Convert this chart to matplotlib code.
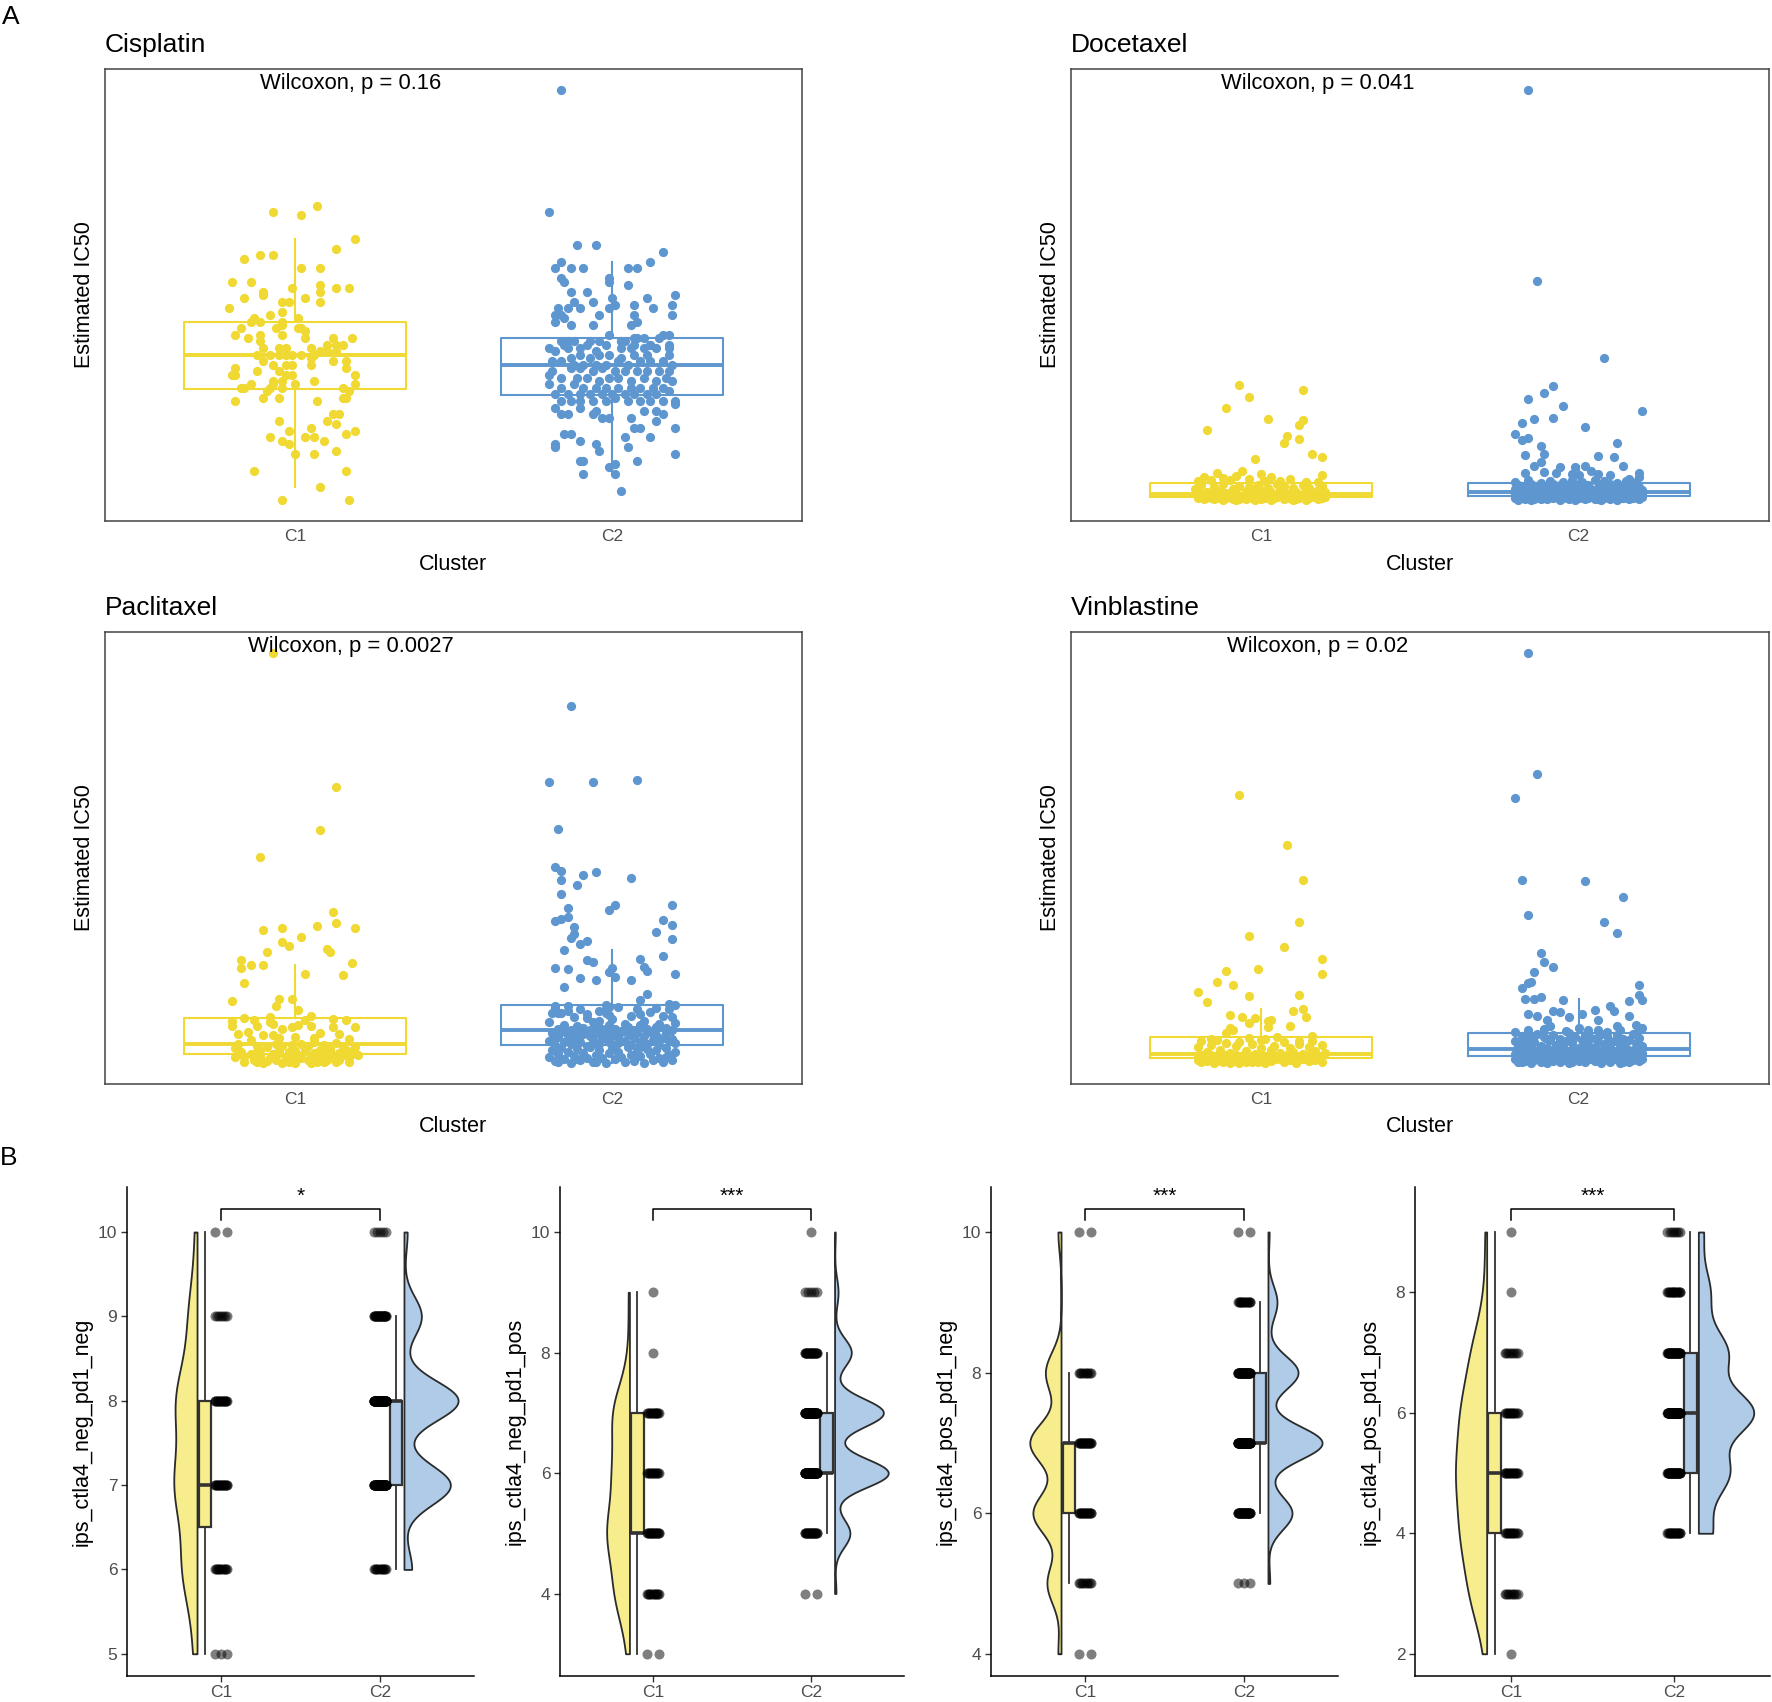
import numpy as np
import matplotlib
matplotlib.use('Agg')
import matplotlib.pyplot as plt
from matplotlib.ticker import MultipleLocator

plt.rcParams['font.family'] = ['Liberation Sans', 'DejaVu Sans']

W, H = 1772, 1702

# ---- panel A data: (jitter, estimated IC50) per sample ----
cisplatin_c1 = [
    (-7, 93), (2, 92), (7, 95), (19, 85), (13, 82), (-16, 79), (-11, 80), (-7, 80), (2, 76), (8, 76),
    (-20, 72), (-14, 72), (8, 71), (13, 70), (17, 70), (-1, 70), (-10, 69), (-10, 68), (8, 69), (-16, 67),
    (-4, 66), (-2, 66), (3, 67), (8, 66), (-21, 64), (-4, 63), (-8, 62), (-4, 60), (1, 61), (1, 58),
    (2, 58), (-13, 61), (-14, 60), (-11, 60), (-6, 58), (-4, 59), (-17, 58), (-19, 56), (-4, 56), (3, 57),
    (3, 55), (-15, 55), (-11, 56), (-11, 54), (-10, 52), (-5, 52), (-3, 52), (-3, 50), (2, 50), (5, 52),
    (10, 53), (12, 55), (13, 53), (15, 53), (18, 55), (6, 50), (8, 51), (10, 51), (13, 51), (-12, 50),
    (-8, 50), (-5, 50), (-1, 50), (5, 47), (5, 49), (12, 48), (16, 48), (16, 46), (-10, 48), (-7, 47),
    (-3, 47), (-1, 47), (-19, 46), (-19, 44), (-20, 44), (-12, 45), (-5, 45), (-3, 44), (-1, 44), (19, 44),
    (19, 41), (6, 42), (0, 41), (-7, 42), (-8, 40), (-16, 40), (-17, 40), (-9, 39), (-10, 37), (17, 39),
    (16, 37), (15, 37), (-19, 36), (-14, 41), (-7, 41), (-5, 37), (-4, 42), (-4, 40), (7, 36), (15, 40),
    (14, 32), (12, 32), (10, 30), (13, 29), (-5, 30), (5, 28), (-2, 27), (19, 27), (16, 26), (-8, 25),
    (-4, 24), (-2, 23), (3, 25), (6, 25), (9, 24), (0, 20), (6, 20), (13, 21), (-13, 15), (16, 15),
    (8, 10), (-4, 6), (17, 6)]

cisplatin_c2 = [
    (-16, 130), (-20, 93), (-11, 83), (-5, 83), (16, 81), (12, 78), (-16, 78), (-18, 76), (-13, 76), (-9, 76),
    (5, 76), (8, 76), (-16, 73), (-15, 72), (-1, 73), (-1, 72), (5, 71), (-13, 69), (-8, 69), (20, 68),
    (19, 65), (19, 62), (11, 67), (13, 64), (7, 65), (0, 67), (1, 65), (-6, 66), (-12, 66), (-17, 64),
    (-18, 62), (-14, 64), (-10, 64), (-15, 61), (-16, 62), (-4, 62), (-1, 64), (7, 62), (8, 60), (6, 59),
    (3, 54), (-2, 53), (-18, 60), (-13, 59), (-14, 54), (-6, 59), (12, 53), (12, 53), (7, 53), (8, 55),
    (10, 55), (4, 54), (-12, 54), (-8, 53), (-1, 56), (16, 56), (18, 56), (18, 53), (18, 50), (3, 54),
    (7, 55), (15, 55), (-16, 54), (-15, 53), (-20, 52), (-18, 51), (-14, 52), (-10, 52), (-5, 51), (-1, 50),
    (-4, 54), (-7, 54), (6, 52), (10, 52), (14, 52), (18, 52), (7, 50), (11, 50), (3, 52), (-13, 49),
    (-10, 50), (-7, 49), (-4, 50), (3, 49), (-16, 48), (-19, 48), (-12, 47), (-9, 47), (-5, 47), (-2, 47),
    (2, 48), (5, 47), (9, 48), (12, 48), (16, 48), (19, 47), (-19, 45), (-13, 46), (-10, 46), (-6, 45),
    (-3, 46), (1, 45), (4, 45), (8, 45), (11, 45), (15, 45), (18, 45), (-20, 44), (-16, 43), (-11, 43),
    (-8, 43), (-4, 42), (-1, 43), (2, 43), (6, 42), (10, 43), (14, 42), (17, 43), (-20, 41), (-16, 40),
    (-12, 41), (-9, 40), (-5, 40), (-2, 40), (2, 40), (6, 40), (9, 40), (13, 40), (16, 40), (19, 42),
    (-18, 38), (-14, 38), (-10, 38), (-7, 38), (-3, 38), (0, 38), (4, 38), (7, 38), (11, 38), (14, 38),
    (18, 39), (-16, 36), (-13, 36), (-10, 36), (-6, 36), (-2, 36), (1, 37), (5, 36), (9, 36), (12, 36),
    (16, 36), (20, 36), (-18, 34), (-16, 32), (-14, 32), (-10, 34), (-6, 32), (-5, 33), (-3, 31), (-1, 31),
    (6, 31), (10, 33), (14, 33), (16, 32), (20, 35), (7, 28), (9, 28), (20, 28), (14, 30), (-15, 26),
    (-13, 26), (-10, 24), (-18, 23), (-18, 22), (-5, 23), (-4, 21), (4, 25), (5, 22), (12, 25), (20, 20),
    (-10, 18), (-9, 18), (8, 18), (1, 17), (-1, 16), (1, 14), (-9, 14), (3, 9)]

docetaxel_c1 = [
    (-7, 40.5), (13, 39.0), (-4, 36.8), (-11, 33.4), (2, 30.2), (13, 29.9), (12, 28.4), (-17, 26.9),
    (8, 25.0), (7, 23.0), (12, 24.3), (16, 19.6), (19, 18.8), (-2, 18.0), (19, 13.4),
    (-14, 13.8), (-6, 14.4), (0, 13.6), (3, 12.8), (-20, 11.4), (-16, 11.8), (-10, 11.8), (-4, 12.1),
    (6, 11.6), (-12, 12.5), (9, 12.2), (-8, 13.0), (14, 11.3), (18, 11.1), (1, 11.5), (-18, 12.6),
    (-21, 9.0), (-19, 10.2), (-17, 8.1), (-15, 9.6), (-13, 8.4), (-12, 10.5), (-11, 7.9), (-9, 9.2),
    (-8, 8.0), (-7, 10.0), (-5, 8.6), (-4, 9.8), (-2, 7.8), (-1, 10.4), (0, 8.9), (2, 9.5), (3, 8.1),
    (5, 10.6), (6, 8.7), (7, 9.9), (9, 7.9), (10, 9.3), (11, 8.2), (13, 10.3), (14, 8.6), (15, 9.5),
    (17, 7.8), (18, 8.9), (19, 10.0), (20, 8.3), (-3, 9.1),
    (-20, 7.0), (-19, 7.4), (-17, 6.8), (-16, 7.2), (-14, 7.5), (-13, 6.9), (-11, 7.1), (-10, 6.7),
    (-9, 7.4), (-7, 7.0), (-6, 6.8), (-5, 7.3), (-3, 7.5), (-2, 6.9), (0, 7.2), (1, 6.7), (2, 7.4),
    (4, 7.0), (5, 6.8), (6, 7.3), (8, 7.5), (9, 6.9), (10, 7.1), (12, 6.7), (13, 7.4), (14, 7.0),
    (16, 6.8), (17, 7.3), (19, 7.1), (20, 6.7), (-1, 7.6),
    (-20, 6.2), (-18, 5.9), (-17, 6.5), (-15, 6.0), (-14, 6.3), (-12, 5.7), (-11, 6.4), (-9, 6.1),
    (-8, 5.8), (-6, 6.5), (-5, 6.0), (-3, 6.3), (-2, 5.6), (0, 6.1), (1, 6.4), (3, 5.8), (4, 6.2),
    (5, 6.5), (7, 5.9), (8, 6.3), (10, 5.7), (11, 6.0), (12, 6.4), (14, 5.8), (15, 6.2), (17, 6.5),
    (18, 5.9), (19, 6.3), (-7, 6.0), (-16, 6.4), (9, 6.6)]

docetaxel_c2 = [
    (-16, 129.8), (-13, 72.0), (8, 48.8), (-8, 40.1), (-11, 38.0), (-16, 36.3), (-5, 34.1), (20, 32.6),
    (-18, 29.1), (-14, 30.3), (-8, 30.5), (2, 27.9), (-20, 25.7), (-18, 24.0), (-16, 24.6), (12, 23.0),
    (-12, 22.0), (-11, 19.6), (-17, 19.4), (6, 19.1), (11, 18.8), (14, 16.0), (-6, 15.8), (-1, 15.6),
    (2, 16.0), (-14, 16.1), (-12, 17.1), (-17, 13.8), (-11, 14.1), (-7, 13.8), (-2, 13.6), (0, 13.4),
    (4, 14.6), (6, 13.6), (10, 13.4), (16, 12.1), (19, 13.8), (19, 12.8),
    (-20, 11.2), (-16, 11.8), (-12, 11.0), (-9, 11.6), (-5, 11.3), (-2, 11.9), (1, 11.1), (5, 11.7),
    (8, 11.4), (12, 11.0), (15, 11.6), (18, 11.2),
    (-20, 9.0), (-19, 10.3), (-18, 8.4), (-17, 9.7), (-16, 8.8), (-15, 10.6), (-14, 8.2), (-13, 9.4),
    (-12, 10.1), (-11, 8.6), (-10, 9.9), (-9, 8.3), (-8, 10.5), (-7, 9.1), (-6, 8.5), (-5, 9.6),
    (-4, 10.2), (-3, 8.2), (-2, 9.3), (-1, 10.7), (0, 8.7), (1, 9.8), (2, 8.4), (3, 10.4), (4, 9.0),
    (5, 8.2), (6, 9.5), (7, 10.0), (8, 8.6), (9, 9.2), (10, 10.6), (11, 8.3), (12, 9.7), (13, 8.9),
    (14, 10.3), (15, 8.5), (16, 9.4), (17, 10.1), (18, 8.2), (19, 9.6), (20, 8.8), (-18, 10.0),
    (-14, 9.5), (-10, 8.9), (-6, 10.4), (-2, 8.6), (2, 10.1), (6, 8.8), (10, 9.3), (14, 9.0),
    (-20, 7.5), (-19, 7.9), (-18, 7.2), (-17, 7.7), (-16, 7.3), (-15, 8.0), (-14, 7.4), (-13, 7.8),
    (-12, 7.2), (-11, 7.6), (-10, 8.0), (-9, 7.3), (-8, 7.7), (-7, 7.1), (-6, 7.5), (-5, 7.9),
    (-4, 7.2), (-3, 7.6), (-2, 8.0), (-1, 7.4), (0, 7.8), (1, 7.2), (2, 7.6), (3, 7.9), (4, 7.3),
    (5, 7.7), (6, 7.1), (7, 7.5), (8, 7.9), (9, 7.3), (10, 7.7), (11, 8.0), (12, 7.4), (13, 7.8),
    (14, 7.2), (15, 7.6), (16, 7.9), (17, 7.3), (18, 7.7), (19, 7.1), (20, 7.5), (-17, 7.4),
    (-13, 7.5), (-9, 7.8), (-5, 7.4), (-1, 7.7), (3, 7.4), (7, 7.8), (11, 7.5), (15, 7.3),
    (-20, 6.4), (-19, 5.8), (-18, 6.9), (-17, 6.1), (-16, 6.6), (-15, 5.7), (-14, 6.3), (-13, 6.8),
    (-12, 6.0), (-11, 6.5), (-10, 5.9), (-9, 7.0), (-8, 6.2), (-7, 6.7), (-6, 5.8), (-5, 6.4),
    (-4, 6.9), (-3, 6.0), (-2, 6.5), (-1, 5.6), (0, 6.2), (1, 6.8), (2, 5.9), (3, 6.4), (4, 7.0),
    (5, 6.1), (6, 6.6), (7, 5.7), (8, 6.3), (9, 6.8), (10, 6.0), (11, 6.5), (12, 5.8), (13, 6.9),
    (14, 6.2), (15, 6.7), (16, 5.9), (17, 6.4), (18, 7.0), (19, 6.1), (20, 6.6), (-18, 6.2),
    (-14, 5.9), (-10, 6.6), (-6, 6.3), (-2, 6.8), (2, 6.3), (6, 6.0), (10, 6.7), (14, 6.4)]

paclitaxel_c1 = [
    (-7, 129.8), (13, 89.3), (8, 76.1), (-11, 68.0), (12, 51.4), (13, 48.1), (-10, 45.8), (-4, 46.5),
    (7, 47.1), (19, 46.6), (2, 43.7), (-4, 42.4), (-2, 41.0), (-9, 39.4), (10, 40.1), (11, 39.2),
    (-17, 37.0), (-17, 34.6), (-14, 35.4), (-10, 35.3), (18, 36.0), (3, 32.5), (15, 32.2), (-16, 30.0),
    (-20, 24.6), (-5, 25.0), (-1, 25.0), (-6, 23.1), (1, 21.8), (-16, 19.2), (-13, 18.7), (-8, 18.2),
    (-8, 19.6), (5, 19.8), (3, 18.6), (16, 18.6), (12, 19.1),
    (-20, 18.4), (-20, 16.9), (-12, 16.8), (-7, 17.5), (-4, 16.0), (-1, 16.6), (1, 17.1), (5, 16.8),
    (12, 16.6), (19, 16.5),
    (-18, 14.6), (-15, 15.1), (-10, 14.3), (-7, 14.1), (-5, 13.3), (0, 13.6), (6, 13.4), (8, 14.8),
    (14, 14.6), (17, 13.0),
    (-19, 10.4), (-12, 10.9), (-9, 10.6), (-6, 11.5), (-4, 10.9), (-1, 11.1), (2, 11.6), (4, 11.0),
    (9, 11.3), (11, 10.1), (15, 10.6), (18, 9.3),
    (-19, 7.4), (-14, 8.6), (-13, 6.6), (-11, 7.8), (-9, 6.4), (-7, 8.4), (-6, 6.6), (-4, 5.6),
    (-3, 7.6), (-2, 9.0), (-1, 6.6), (1, 8.1), (3, 9.4), (4, 6.6), (6, 8.8), (7, 6.1), (8, 7.4),
    (10, 8.6), (12, 7.3), (13, 6.1), (15, 8.1), (17, 5.9), (20, 8.1), (-17, 9.1), (-16, 6.1),
    (-12, 9.1), (-10, 5.6), (-5, 9.4), (-2, 6.1), (2, 7.1), (5, 7.6), (9, 6.0), (11, 9.4), (14, 8.8),
    (17, 7.4), (18, 8.6), (-8, 7.1), (0, 9.4), (8, 8.6), (16, 9.6),
    (-18, 11.6), (-14, 12.6), (6, 12.1), (13, 11.8), (-11, 9.8), (3, 10.4), (-5, 8.8), (8, 9.8),
    (19, 10.6), (-16, 7.6), (-12, 6.1), (0, 5.8), (5, 5.6), (10, 6.6), (14, 6.6)]

paclitaxel_c2 = [
    (-13, 113.6), (-20, 90.8), (-6, 90.8), (8, 91.4), (-17, 76.6), (-18, 65.1), (-16, 63.8), (-9, 62.6),
    (-5, 63.6), (6, 61.6), (-16, 60.9), (-11, 59.4), (-16, 56.9), (19, 53.6), (1, 53.4), (-1, 51.9),
    (-14, 52.6), (-18, 48.8), (-16, 49.4), (-14, 49.8), (16, 49.1), (19, 47.4), (-12, 46.8), (-12, 44.6),
    (-13, 43.6), (14, 45.3), (-8, 42.6), (-10, 41.6), (19, 43.1), (-15, 39.8), (16, 38.0), (-8, 36.8),
    (-6, 36.4), (9, 37.1), (-18, 34.6), (-14, 34.3), (10, 34.8), (11, 33.4), (0, 34.6), (20, 32.5),
    (-10, 31.3), (-5, 30.9), (-1, 33.1), (-2, 20.7), (1, 31.6), (6, 30.8), (-15, 28.8), (-1, 22.6),
    (-2, 21.9), (11, 26.6), (-14, 21.4), (-17, 20.9), (-18, 22.9), (-8, 19.2), (-4, 18.4), (9, 24.9),
    (14, 22.4), (18, 23.6), (20, 23.4),
    (-18, 22.5), (-16, 21.0), (-14, 23.0), (-12, 19.5), (-10, 22.0), (-8, 20.5), (-6, 18.0), (-4, 21.5),
    (-2, 23.3), (0, 19.0), (2, 22.8), (4, 17.5), (6, 20.0), (8, 22.2), (10, 18.5), (12, 21.2),
    (14, 16.5), (16, 19.8), (18, 22.0), (20, 17.8), (-20, 18.2), (-17, 16.0), (-15, 17.2), (-13, 15.8),
    (-11, 17.0), (-9, 16.2), (-7, 15.6), (-5, 16.8), (-3, 15.9), (-1, 17.3), (1, 16.1), (3, 15.5),
    (5, 16.6), (7, 15.8), (9, 17.1), (11, 16.0), (13, 15.4), (15, 17.4), (17, 16.3), (19, 15.7),
    (-19, 20.8), (-1, 20.2), (9, 20.6), (19, 19.6),
    (-20, 12.5), (-19, 14.8), (-18, 11.2), (-17, 13.5), (-16, 15.0), (-15, 12.0), (-14, 14.2), (-13, 11.5),
    (-12, 13.0), (-11, 15.2), (-10, 12.2), (-9, 14.5), (-8, 11.0), (-7, 13.8), (-6, 12.6), (-5, 14.9),
    (-4, 11.4), (-3, 13.2), (-2, 15.1), (-1, 12.0), (0, 14.0), (1, 11.3), (2, 13.6), (3, 15.0),
    (4, 12.4), (5, 14.4), (6, 11.1), (7, 13.3), (8, 14.8), (9, 12.1), (10, 13.9), (11, 11.6),
    (12, 15.2), (13, 12.8), (14, 14.1), (15, 11.2), (16, 13.4), (17, 14.7), (18, 12.3), (19, 13.1),
    (20, 11.8), (-18, 13.9), (-14, 12.7), (-10, 14.6), (-6, 11.5), (-2, 12.9), (2, 11.9), (6, 14.3),
    (10, 11.4), (14, 13.0),
    (-20, 7.5), (-19, 9.8), (-18, 6.2), (-17, 8.6), (-16, 10.4), (-15, 7.0), (-14, 9.2), (-13, 5.8),
    (-12, 8.0), (-11, 10.0), (-10, 6.6), (-9, 8.9), (-8, 7.3), (-7, 10.6), (-6, 6.0), (-5, 8.3),
    (-4, 9.6), (-3, 7.1), (-2, 5.6), (-1, 8.8), (0, 10.2), (1, 6.8), (2, 9.0), (3, 7.6), (4, 5.9),
    (5, 10.5), (6, 8.1), (7, 6.4), (8, 9.4), (9, 7.8), (10, 5.7), (11, 10.1), (12, 8.5), (13, 6.5),
    (14, 9.7), (15, 7.2), (16, 6.0), (17, 10.3), (18, 8.2), (19, 6.7), (20, 9.1), (-17, 6.0),
    (-11, 7.0), (-5, 6.1), (1, 9.9), (9, 10.7), (17, 7.7)]

vinblastine_c1 = [
    (-7, 86.6), (8, 71.6), (13, 61.0), (12, 48.3), (-4, 44.2), (7, 40.9), (19, 37.1), (-11, 33.6),
    (-1, 34.2), (19, 32.6), (-14, 30.3), (-9, 29.3), (-20, 27.2), (-4, 26.1), (12, 26.4), (-17, 24.3),
    (13, 22.2), (10, 21.4), (-10, 20.3), (14, 19.6), (-2, 19.4), (-6, 19.6), (2, 18.4), (3, 18.8),
    (-4, 17.9), (2, 16.6), (9, 16.8), (-10, 16.4), (-9, 15.6), (-11, 14.9), (16, 13.8), (-16, 13.1),
    (-4, 13.4), (5, 13.6), (0, 12.6), (12, 12.3),
    (-20, 10.5), (-19, 12.4), (-17, 9.0), (-16, 11.2), (-14, 12.8), (-13, 9.6), (-11, 11.8), (-10, 8.8),
    (-8, 10.9), (-7, 12.2), (-5, 9.3), (-3, 11.5), (-2, 8.6), (0, 10.2), (1, 12.9), (3, 9.8),
    (4, 11.0), (6, 8.9), (7, 12.0), (9, 10.4), (10, 9.1), (12, 11.6), (13, 8.5), (15, 10.7),
    (16, 12.5), (17, 9.4), (19, 11.3), (20, 8.7),
    (-20, 7.8), (-19, 8.2), (-18, 7.4), (-17, 7.9), (-16, 8.3), (-15, 7.5), (-14, 8.0), (-13, 7.3),
    (-12, 7.7), (-11, 8.1), (-10, 7.5), (-9, 7.9), (-8, 8.3), (-7, 7.4), (-6, 7.8), (-5, 8.2),
    (-4, 7.6), (-3, 8.0), (-2, 7.3), (-1, 7.7), (0, 8.1), (1, 7.5), (2, 7.9), (3, 8.3), (4, 7.4),
    (6, 7.8), (8, 8.2), (10, 7.6), (12, 8.0), (15, 7.4), (18, 7.8),
    (-20, 6.5), (-19, 5.9), (-18, 7.0), (-17, 6.2), (-16, 6.8), (-15, 5.7), (-14, 6.4), (-13, 7.1),
    (-12, 6.0), (-11, 6.6), (-10, 5.8), (-9, 6.9), (-8, 6.3), (-7, 5.6), (-6, 6.7), (-5, 6.1),
    (-4, 7.2), (-3, 5.9), (-2, 6.5), (-1, 6.0), (0, 6.8), (1, 5.7), (3, 6.4), (5, 7.0), (7, 6.1),
    (9, 6.6), (11, 5.8), (13, 6.9), (15, 6.2), (17, 6.7), (19, 6.0)]

vinblastine_c2 = [
    (-16, 129.8), (-13, 93.0), (-20, 85.8), (-18, 61.0), (2, 60.6), (14, 55.8), (-16, 50.4), (8, 48.4),
    (12, 45.1), (-12, 39.1), (-11, 36.3), (-8, 34.9), (-14, 33.3), (19, 29.2), (-18, 28.4), (-16, 29.8),
    (-15, 30.1), (19, 26.4), (20, 24.8), (-17, 25.1), (-14, 25.1), (-12, 25.8), (-5, 24.8), (16, 24.6),
    (10, 23.1), (11, 21.6), (5, 21.8), (-16, 20.6), (-13, 19.8), (-8, 21.4), (-6, 21.1), (-3, 19.6),
    (1, 20.6), (6, 18.6), (16, 19.8), (-10, 18.6), (18, 17.3), (12, 16.8), (-9, 16.8), (3, 15.6),
    (6, 15.6), (-16, 15.6), (19, 15.6),
    (-20, 15.2), (-11, 16.0), (-4, 15.3), (0, 16.4), (9, 15.1), (13, 15.8), (20, 16.2),
    (-20, 12.5), (-19, 10.8), (-18, 14.0), (-17, 11.5), (-16, 13.2), (-15, 10.4), (-14, 12.0), (-13, 14.6),
    (-12, 11.0), (-11, 13.5), (-10, 10.2), (-9, 12.8), (-8, 14.3), (-7, 11.3), (-6, 13.0), (-5, 10.6),
    (-4, 12.3), (-3, 14.8), (-2, 11.7), (-1, 13.6), (0, 10.3), (1, 12.6), (2, 14.1), (3, 11.1),
    (4, 13.3), (5, 10.5), (6, 12.1), (7, 14.5), (8, 11.4), (9, 13.8), (10, 10.7), (11, 12.4),
    (12, 14.2), (13, 11.2), (14, 13.1), (15, 10.3), (16, 12.7), (17, 14.4), (18, 11.8), (19, 13.4),
    (20, 10.9), (-18, 11.9), (-14, 13.8), (-10, 12.9), (-6, 11.6), (-2, 13.9), (2, 12.0), (6, 13.7),
    (10, 12.2), (14, 11.5),
    (-20, 8.5), (-19, 9.6), (-18, 8.0), (-17, 9.1), (-16, 8.3), (-15, 9.9), (-14, 8.7), (-13, 9.4),
    (-12, 8.1), (-11, 9.0), (-10, 8.6), (-9, 9.8), (-8, 8.2), (-7, 9.3), (-6, 8.8), (-5, 10.0),
    (-4, 8.4), (-3, 9.5), (-2, 8.0), (-1, 9.2), (0, 8.7), (1, 9.7), (2, 8.3), (3, 9.0), (4, 8.9),
    (5, 9.9), (6, 8.1), (7, 9.4), (8, 8.6), (9, 9.6), (10, 8.2), (11, 9.1), (12, 8.8), (13, 10.0),
    (14, 8.4), (15, 9.3), (16, 8.0), (17, 9.7), (18, 8.5), (19, 9.0), (20, 8.9), (-17, 8.4),
    (-13, 8.9), (-9, 8.3), (-5, 8.7), (-1, 8.1), (3, 8.6), (7, 8.2), (11, 8.7), (15, 8.5),
    (-20, 6.8), (-19, 6.0), (-18, 7.5), (-17, 6.3), (-16, 7.1), (-15, 5.8), (-14, 6.6), (-13, 7.7),
    (-12, 6.1), (-11, 6.9), (-10, 5.7), (-9, 7.3), (-8, 6.4), (-7, 7.8), (-6, 6.0), (-5, 6.7),
    (-4, 7.4), (-3, 5.6), (-2, 6.5), (-1, 7.2), (0, 6.2), (1, 7.6), (2, 5.9), (3, 6.8), (4, 7.0),
    (5, 6.3), (6, 7.7), (7, 5.8), (8, 6.6), (9, 7.3), (10, 6.1), (11, 6.9), (12, 7.5), (13, 5.7),
    (14, 6.4), (15, 7.1), (16, 6.0), (17, 6.7), (18, 7.4), (19, 6.2), (20, 6.9), (-18, 6.1),
    (-14, 7.2), (-10, 6.4), (-6, 7.0), (-2, 5.9), (2, 7.1), (6, 6.5), (10, 7.4), (14, 6.0)]

drugs = ['Cisplatin', 'Docetaxel', 'Paclitaxel', 'Vinblastine']
p_labels = ['Wilcoxon, p = 0.16', 'Wilcoxon, p = 0.041', 'Wilcoxon, p = 0.0027', 'Wilcoxon, p = 0.02']
drug_data = [(cisplatin_c1, cisplatin_c2), (docetaxel_c1, docetaxel_c2),
             (paclitaxel_c1, paclitaxel_c2), (vinblastine_c1, vinblastine_c2)]

# ---- panel B data: IPS score counts per level ----
ips_names = ['ips_ctla4_neg_pd1_neg', 'ips_ctla4_neg_pd1_pos', 'ips_ctla4_pos_pd1_neg', 'ips_ctla4_pos_pd1_pos']
ips_levels = [[5, 6, 7, 8, 9, 10], [3, 4, 5, 6, 7, 8, 9, 10], [4, 5, 6, 7, 8, 9, 10], [2, 3, 4, 5, 6, 7, 8, 9]]
ips_c1_counts = [[3, 12, 18, 17, 7, 2], [2, 12, 18, 13, 14, 1, 1, 0], [2, 9, 18, 20, 10, 0, 2], [1, 9, 13, 15, 13, 8, 1, 1]]
ips_c2_counts = [[0, 12, 72, 84, 27, 5], [0, 2, 22, 77, 70, 24, 5, 1], [0, 3, 40, 90, 50, 15, 2], [0, 0, 19, 42, 76, 40, 16, 7]]
ips_signif = ['*', '***', '***', '***']
ips_ticks = [1, 2, 2, 2]

YEL, BLU = '#F0D932', '#5E96D0'
YEL_FILL, BLU_FILL = '#F8ED8C', '#AFCBE8'
DARK = '#333333'

fig = plt.figure(figsize=(W / 100, H / 100), dpi=100)


def add_ax(x0, y0, x1, y1):
    return fig.add_axes([x0 / W, 1 - y1 / H, (x1 - x0) / W, (y1 - y0) / H])


def draw_ic50(ax, title, ptext, groups, wpx, hpx):
    allv = []
    for i, (pts, col) in enumerate(zip(groups, [YEL, BLU])):
        jit = np.array([p[0] for p in pts]) / 100.0
        vals = np.array([p[1] for p in pts], dtype=float)
        allv.extend(vals)
        ax.boxplot(vals, positions=[i + 1], widths=0.7, showcaps=False, showfliers=False,
                   manage_ticks=False,
                   boxprops=dict(color=col, lw=1.5), whiskerprops=dict(color=col, lw=1.5),
                   medianprops=dict(color=col, lw=2.8))
        ax.scatter(i + 1 + jit, vals, s=44, color=col, lw=0, zorder=3)
    lo, hi = min(allv), max(allv)
    pad = 0.05 * (hi - lo)
    ax.set_ylim(lo - pad, hi + pad)
    ax.set_xlim(0.4, 2.6)
    ax.set_xticks([1, 2])
    ax.set_xticklabels(['C1', 'C2'])
    ax.set_yticks([])
    ax.tick_params(axis='x', length=0, pad=6, labelsize=12.5, labelcolor='#4D4D4D')
    for s in ax.spines.values():
        s.set_color('#444444')
        s.set_linewidth(1.1)
    ax.text(0, 1 + 24 / hpx, title, transform=ax.transAxes, ha='left', va='center', fontsize=19)
    ax.text(0.353, 1 - 14 / hpx, ptext, transform=ax.transAxes, ha='center', va='center',
            fontsize=15.8, zorder=5)
    ax.text(0.5, -43 / hpx, 'Cluster', transform=ax.transAxes, ha='center', va='center', fontsize=15.5)
    ax.text(-21 / wpx, 0.5, 'Estimated IC50', transform=ax.transAxes, rotation=90,
            ha='center', va='center', fontsize=15.5)


def nrd0(x):
    sd = np.std(x, ddof=1)
    q75, q25 = np.percentile(x, [75, 25])
    lo = min(sd, (q75 - q25) / 1.34)
    if lo <= 0:
        lo = sd
    return 0.9 * lo * len(x) ** -0.2


def kde(x, grid):
    bw = nrd0(x)
    z = (grid[:, None] - x[None, :]) / bw
    return np.exp(-0.5 * z ** 2).sum(axis=1) / (len(x) * bw * np.sqrt(2 * np.pi))


def draw_rain(ax, levels, c1, c2, name, signif, tick_step, wpx, hpx):
    g1 = np.repeat(levels, c1).astype(float)
    g2 = np.repeat(levels, c2).astype(float)
    grids = [np.linspace(g.min(), g.max(), 512) for g in (g1, g2)]
    dens = [kde(g, gr) for g, gr in zip((g1, g2), grids)]
    dmax = max(d.max() for d in dens)
    # half violins
    w1 = dens[0] / dmax * 0.34
    w2 = dens[1] / dmax * 0.34
    ax.fill_betweenx(grids[0], 1 - 0.15 - w1, 1 - 0.15, facecolor=YEL_FILL, edgecolor='#2B2B2B', lw=1.3, zorder=2)
    ax.fill_betweenx(grids[1], 2 + 0.15, 2 + 0.15 + w2, facecolor=BLU_FILL, edgecolor='#2B2B2B', lw=1.3, zorder=2)
    # narrow boxes
    for g, pos, fill in ((g1, 0.9, YEL_FILL), (g2, 2.1, BLU_FILL)):
        ax.boxplot(g, positions=[pos], widths=0.08, patch_artist=True, showcaps=False, showfliers=False,
                   manage_ticks=False,
                   boxprops=dict(facecolor=fill, edgecolor=DARK, lw=1.6),
                   whiskerprops=dict(color=DARK, lw=1.3),
                   medianprops=dict(color=DARK, lw=2.6), zorder=3)
    # points, spread evenly inside a narrow band around each group
    for cnts, pos in ((c1, 1), (c2, 2)):
        for lev, k in zip(levels, cnts):
            if k == 0:
                continue
            xs = np.linspace(-0.04, 0.04, k) if k > 1 else np.array([0.0])
            ax.scatter(pos + xs, np.full(k, lev), s=52, color='black', alpha=0.5, lw=0, zorder=4)
    vmin = min(g1.min(), g2.min())
    vmax = max(g1.max(), g2.max())
    yb = vmax + 0.054 * (vmax - vmin)
    lo = vmin - 0.05 * (yb - vmin)
    hi = yb + 0.05 * (yb - vmin)
    ax.set_ylim(lo, hi)
    ax.set_xlim(0.41, 2.59)
    per_px = (hi - lo) / hpx
    ax.plot([1, 1, 2, 2], [yb - 11 * per_px, yb, yb, yb - 11 * per_px], color='black', lw=1.1, zorder=5)
    ax.text(1.5, yb + 7 * per_px, signif, ha='center', va='baseline', fontsize=15)
    ax.set_xticks([1, 2])
    ax.set_xticklabels(['C1', 'C2'])
    ax.yaxis.set_major_locator(MultipleLocator(tick_step))
    ax.tick_params(length=4, width=1.0, color=DARK, labelsize=12.5, labelcolor='#4D4D4D')
    ax.tick_params(axis='x', pad=2.5)
    ax.tick_params(axis='y', pad=3)
    for side in ('top', 'right'):
        ax.spines[side].set_visible(False)
    for side in ('left', 'bottom'):
        ax.spines[side].set_linewidth(1.1)
        ax.spines[side].set_color('black')
    ax.text(-45 / wpx, 0.5, name, transform=ax.transAxes, rotation=90, ha='center', va='center', fontsize=15.5)


# panel A layout in pixels
a_boxes = [(105, 69, 802, 521), (1071, 69, 1769, 521), (105, 632, 802, 1084), (1071, 632, 1769, 1084)]
for box, drug, ptext, groups in zip(a_boxes, drugs, p_labels, drug_data):
    ax = add_ax(*box)
    draw_ic50(ax, drug, ptext, groups, box[2] - box[0], box[3] - box[1])

b_boxes = [(127, 1187, 474, 1676), (560, 1187, 904, 1676), (991, 1187, 1338, 1676), (1415, 1187, 1770, 1676)]
for i, box in enumerate(b_boxes):
    ax = add_ax(*box)
    draw_rain(ax, ips_levels[i], ips_c1_counts[i], ips_c2_counts[i], ips_names[i], ips_signif[i],
              ips_ticks[i], box[2] - box[0], box[3] - box[1])

fig.text(11 / W, 1 - 17 / H, 'A', ha='center', va='center', fontsize=19)
fig.text(9 / W, 1 - 1158 / H, 'B', ha='center', va='center', fontsize=19)

fig.savefig('out.png', dpi=100)
